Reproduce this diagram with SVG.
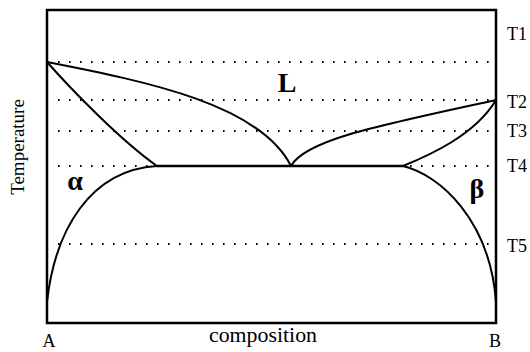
<svg xmlns="http://www.w3.org/2000/svg" width="530" height="352" viewBox="0 0 530 352">
<style>
.frame{fill:none;stroke:#000;stroke-width:2.5}
.curve{fill:none;stroke:#000;stroke-width:2;stroke-linecap:round}
.dot{fill:none;stroke:#000;stroke-width:2;stroke-dasharray:1.6 9.4}
.t{font-family:"Liberation Serif","Times New Roman",serif;font-size:18px;fill:#000}
.big{font-family:"Liberation Serif","Times New Roman",serif;font-size:28px;font-weight:bold;fill:#000}
</style>
<rect width="530" height="352" fill="#fff"/>
<g id="isotherms">
<line class="dot" x1="58" y1="62" x2="492" y2="62"/>
<line class="dot" x1="58" y1="100" x2="492" y2="100"/>
<line class="dot" x1="58" y1="131" x2="492" y2="131"/>
<line class="dot" x1="58" y1="166" x2="492" y2="166"/>
<line class="dot" x1="58" y1="244" x2="492" y2="244"/>
</g>
<g id="frame">
<rect class="frame" x="47" y="10" width="449" height="313"/>
</g>
<g id="phase-boundaries">
<path class="curve" d="M47,62 C150,82 260,105 291,166"/>
<path class="curve" d="M47,62 C70,88 120,140 157,166"/>
<path class="curve" d="M291,166 C305,140 380,125 496,100"/>
<path class="curve" d="M403,166 C430,155 475,135 496,100"/>
<path class="curve" d="M157,166 H403" style="stroke-width:2.5"/>
<path class="curve" d="M157,166 C90,170 55,230 47,302"/>
<path class="curve" d="M403,166 C440,175 490,220 496,302"/>
</g>
<g id="phase-labels">
<text class="big" x="287" y="92" text-anchor="middle">L</text>
<text class="big" x="75" y="190" text-anchor="middle">α</text>
<text class="big" x="477" y="198" text-anchor="middle">β</text>
</g>
<g id="temperature-labels">
<text class="t" x="507" y="40">T1</text>
<text class="t" x="507" y="108">T2</text>
<text class="t" x="507" y="137">T3</text>
<text class="t" x="507" y="172">T4</text>
<text class="t" x="507" y="252">T5</text>
</g>
<g id="axis-labels">
<text class="t" x="49" y="347" text-anchor="middle">A</text>
<text class="t" x="495" y="347" text-anchor="middle">B</text>
<text class="t" x="209" y="342" style="font-size:20px" textLength="108" lengthAdjust="spacingAndGlyphs">composition</text>
<text class="t" transform="translate(24,147) rotate(-90)" text-anchor="middle" style="font-size:19px">Temperature</text>
</g>
</svg>
